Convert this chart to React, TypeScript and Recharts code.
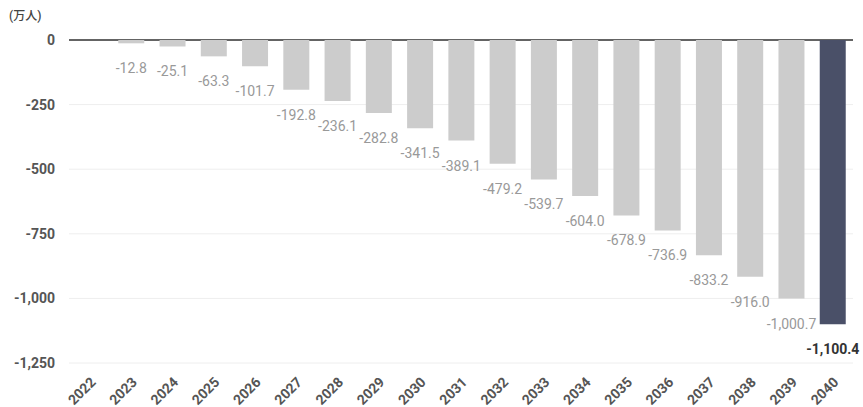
import React from 'react';
import { Bar, BarChart, CartesianGrid, Cell, LabelList, XAxis, YAxis } from 'recharts';

const years = [
  '2022', '2023', '2024', '2025', '2026', '2027', '2028', '2029', '2030', '2031',
  '2032', '2033', '2034', '2035', '2036', '2037', '2038', '2039', '2040',
];
const shortage = [
  0, -12.8, -25.1, -63.3, -101.7, -192.8, -236.1, -282.8, -341.5, -389.1,
  -479.2, -539.7, -604.0, -678.9, -736.9, -833.2, -916.0, -1000.7, -1100.4,
];
const yTicks = [0, -250, -500, -750, -1000, -1250];

const data = years.map((year, i) => ({ year, value: shortage[i] }));
const lastValue = shortage[shortage.length - 1];

const fmt = (v: number) => v.toLocaleString('en-US');
const fmtLabel = (v: number) =>
  v.toLocaleString('en-US', { minimumFractionDigits: 1, maximumFractionDigits: 1 });

const FONT = 'Roboto, "Noto Sans CJK JP", sans-serif';

const ValueLabel = (props: any) => {
  const { x, y, width, height, value } = props;
  if (!value) return null;
  const bottom = Math.max(Number(y), Number(y) + Number(height));
  const last = value === lastValue;
  return (
    <text
      x={Number(x) + Number(width) / 2}
      y={bottom + 30}
      textAnchor="middle"
      fontFamily={FONT}
      fontSize={14}
      fontWeight={last ? 700 : 400}
      fill={last ? '#333' : '#999'}
    >
      {fmtLabel(value)}
    </text>
  );
};

// zero line drawn as a grid line so the bars sit on top of it
const zeroLine = (props: any) => {
  const s = props?.yAxis?.scale;
  if (typeof s === 'function') return [s(0)];
  if (s && typeof s.map === 'function') return [s.map(0)];
  return [props.offset.top];
};

export default function App() {
  return (
    <div style={{ position: 'absolute', left: 0, top: 0, width: 863, height: 407, background: '#fff' }}>
      <div
        style={{
          position: 'absolute',
          left: 9,
          top: 6,
          fontFamily: FONT,
          fontSize: 12,
          fontWeight: 500,
          color: '#444',
        }}
      >
        (万人)
      </div>
      <BarChart
        width={863}
        height={407}
        data={data}
        margin={{ top: 40, right: 10, bottom: 0, left: 0 }}
      >
        <CartesianGrid vertical={false} stroke="#eeeeee" />
        <CartesianGrid
          vertical={false}
          stroke="#333"
          strokeWidth={1.5}
          horizontalCoordinatesGenerator={zeroLine}
        />
        <XAxis
          dataKey="year"
          height={44}
          axisLine={false}
          tickLine={false}
          interval={0}
          angle={-45}
          textAnchor="end"
          tickMargin={7}
          tick={{ fontFamily: FONT, fontSize: 14, fontWeight: 700, fill: '#555' }}
        />
        <YAxis
          width={69}
          domain={[-1250, 0]}
          ticks={yTicks}
          axisLine={false}
          tickLine={false}
          tickMargin={8}
          tickFormatter={fmt}
          tick={{ fontFamily: FONT, fontSize: 14, fontWeight: 700, fill: '#555' }}
        />
        <Bar dataKey="value" barSize={26} isAnimationActive={false}>
          {data.map((d, i) => (
            <Cell key={d.year} fill={i === years.length - 1 ? '#4a5068' : '#cccccc'} />
          ))}
          <LabelList dataKey="value" content={ValueLabel} />
        </Bar>
      </BarChart>
    </div>
  );
}
